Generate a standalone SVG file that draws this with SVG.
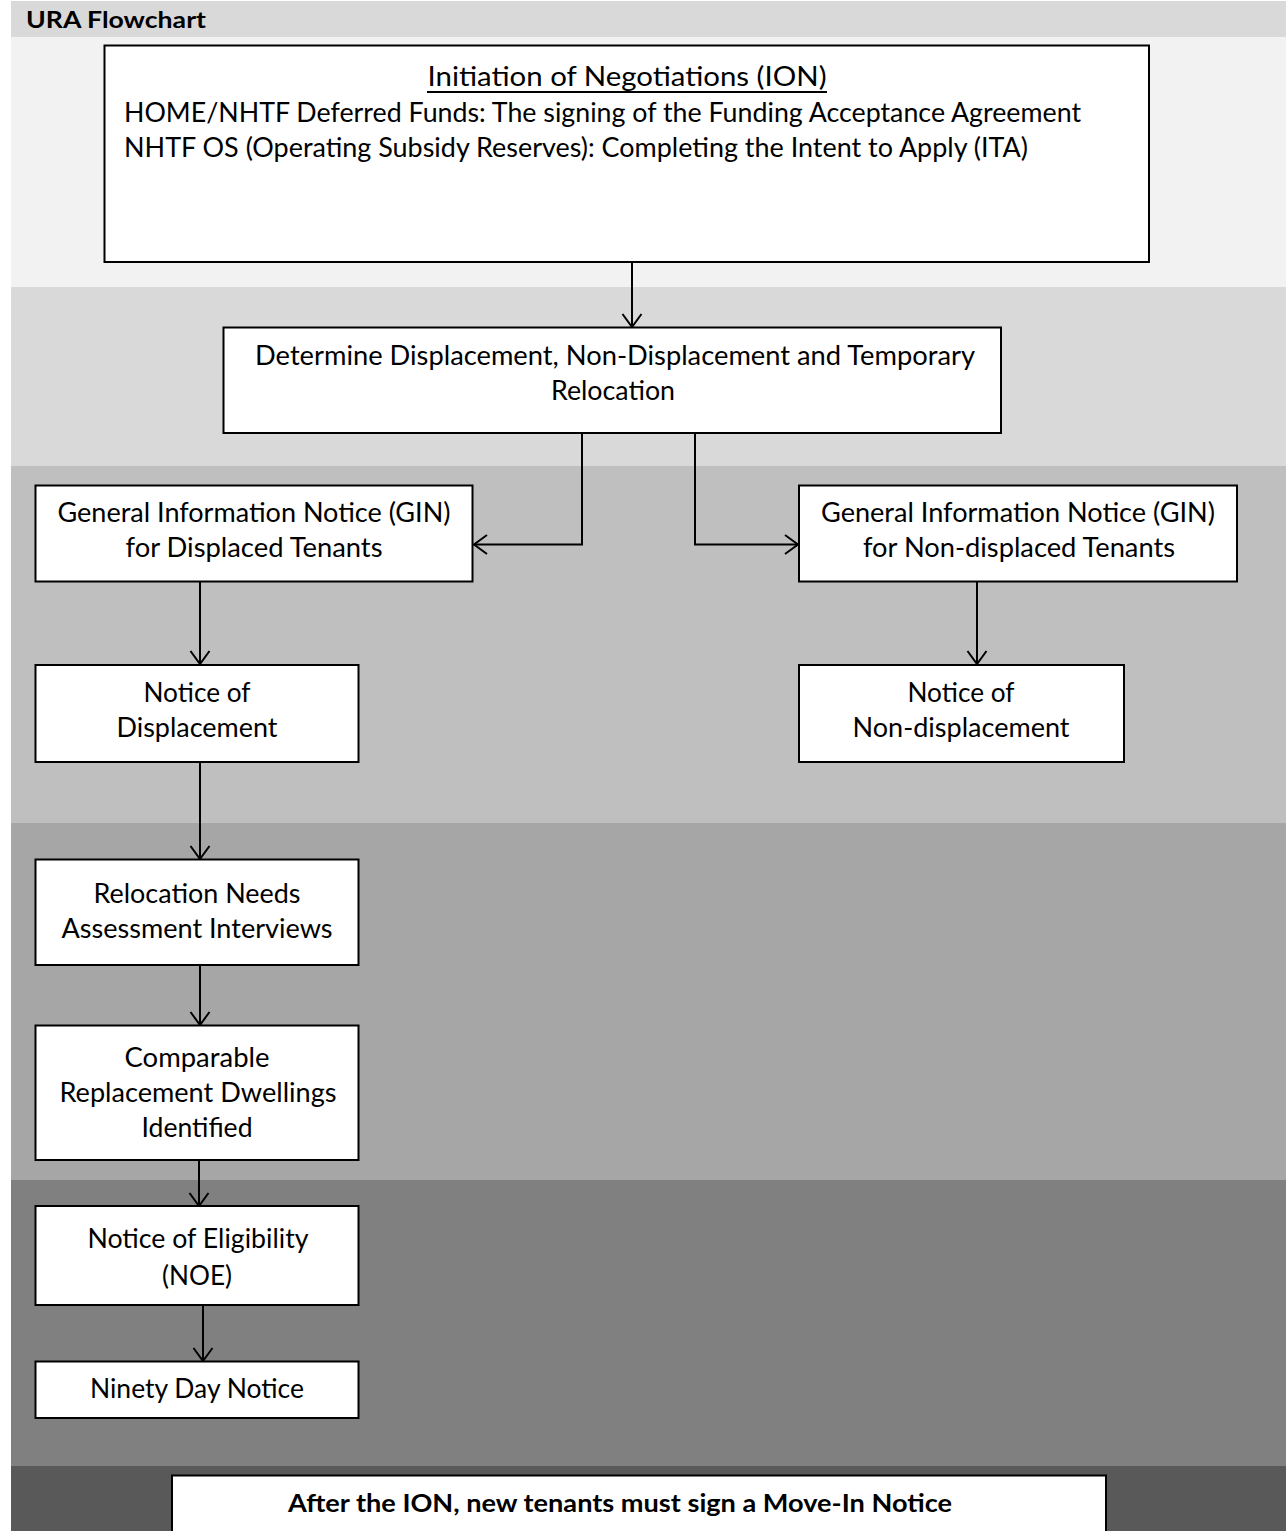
<svg xmlns="http://www.w3.org/2000/svg" width="1286" height="1531" viewBox="0 0 1286 1531">
<style>
.band{stroke:none}
.box{fill:#ffffff;stroke:#000000;stroke-width:2}
.t{font-family:Lato,"Open Sans","Liberation Sans",sans-serif;font-size:27px;fill:#000000;text-anchor:middle}
.tl{font-family:Lato,"Open Sans","Liberation Sans",sans-serif;font-size:27px;fill:#000000}
.b{font-family:Lato,"Open Sans","Liberation Sans",sans-serif;font-weight:bold;fill:#000000}
.c{fill:none;stroke:#000000;stroke-width:2}
</style>
<defs>
<marker id="ah" markerUnits="userSpaceOnUse" markerWidth="30" markerHeight="30" refX="0" refY="0" viewBox="-15 -15 30 30" orient="auto" overflow="visible">
<path d="M-13,-9.5 L0,0 L-13,9.5" fill="none" stroke="#000000" stroke-width="2"/>
</marker>
</defs>
<rect width="1286" height="1531" fill="#ffffff"/>
<g id="bands">
<rect class="band" x="11" y="1" width="1275" height="36" fill="#d9d9d9"/>
<rect class="band" x="11" y="37" width="1275" height="250" fill="#f2f2f2"/>
<rect class="band" x="11" y="287" width="1275" height="179" fill="#d9d9d9"/>
<rect class="band" x="11" y="466" width="1275" height="357" fill="#bfbfbf"/>
<rect class="band" x="11" y="823" width="1275" height="357" fill="#a6a6a6"/>
<rect class="band" x="11" y="1180" width="1275" height="286" fill="#808080"/>
<rect class="band" x="11" y="1466" width="1275" height="65" fill="#595959"/>
</g>
<text class="b" x="26" y="28" font-size="22" textLength="180" lengthAdjust="spacingAndGlyphs">URA Flowchart</text>
<g id="connectors">
<line class="c" x1="632" y1="262" x2="632" y2="327" marker-end="url(#ah)"/>
<polyline class="c" points="582,433 582,544.5 474,544.5" marker-end="url(#ah)"/>
<polyline class="c" points="695,433 695,544.5 798,544.5" marker-end="url(#ah)"/>
<line class="c" x1="200" y1="582" x2="200" y2="664" marker-end="url(#ah)"/>
<line class="c" x1="977" y1="582" x2="977" y2="664" marker-end="url(#ah)"/>
<line class="c" x1="200" y1="762" x2="200" y2="859" marker-end="url(#ah)"/>
<line class="c" x1="200" y1="965" x2="200" y2="1025" marker-end="url(#ah)"/>
<line class="c" x1="199" y1="1160" x2="199" y2="1206" marker-end="url(#ah)"/>
<line class="c" x1="203" y1="1305" x2="203" y2="1361" marker-end="url(#ah)"/>
</g>
<g id="node-ion">
<rect class="box" x="104.5" y="45.5" width="1044.5" height="216.5" stroke-width="2.5"/>
<text class="t" x="627" y="86" textLength="399" lengthAdjust="spacingAndGlyphs">Initiation of Negotiations (ION)</text>
<line x1="427" y1="92" x2="827" y2="92" stroke="#000000" stroke-width="2"/>
<text class="tl" x="124" y="122" textLength="957" lengthAdjust="spacingAndGlyphs">HOME/NHTF Deferred Funds: The signing of the Funding Acceptance Agreement</text>
<text class="tl" x="124" y="157" textLength="904" lengthAdjust="spacingAndGlyphs">NHTF OS (Operating Subsidy Reserves): Completing the Intent to Apply (ITA)</text>
</g>
<g id="node-determine">
<rect class="box" x="223.5" y="327.5" width="777.5" height="105.5"/>
<text class="t" x="615" y="365" textLength="720" lengthAdjust="spacingAndGlyphs">Determine Displacement, Non-Displacement and Temporary</text>
<text class="t" x="613" y="400" textLength="124" lengthAdjust="spacingAndGlyphs">Relocation</text>
</g>
<g id="node-gin-displaced">
<rect class="box" x="35.5" y="485.5" width="437" height="96"/>
<text class="t" x="254" y="522" textLength="393" lengthAdjust="spacingAndGlyphs">General Information Notice (GIN)</text>
<text class="t" x="254" y="557" textLength="257" lengthAdjust="spacingAndGlyphs">for Displaced Tenants</text>
</g>
<g id="node-gin-nondisplaced">
<rect class="box" x="799" y="485.5" width="438" height="96"/>
<text class="t" x="1018" y="522" textLength="394" lengthAdjust="spacingAndGlyphs">General Information Notice (GIN)</text>
<text class="t" x="1019" y="557" textLength="312" lengthAdjust="spacingAndGlyphs">for Non-displaced Tenants</text>
</g>
<g id="node-notice-displacement">
<rect class="box" x="35.5" y="665" width="323" height="97"/>
<text class="t" x="197" y="702" textLength="107" lengthAdjust="spacingAndGlyphs">Notice of</text>
<text class="t" x="197" y="737" textLength="161" lengthAdjust="spacingAndGlyphs">Displacement</text>
</g>
<g id="node-notice-nondisplacement">
<rect class="box" x="799" y="665" width="325" height="97"/>
<text class="t" x="961" y="702" textLength="107" lengthAdjust="spacingAndGlyphs">Notice of</text>
<text class="t" x="961" y="737" textLength="217" lengthAdjust="spacingAndGlyphs">Non-displacement</text>
</g>
<g id="node-relocation">
<rect class="box" x="35.5" y="859.5" width="323" height="105.5"/>
<text class="t" x="197" y="903" textLength="207" lengthAdjust="spacingAndGlyphs">Relocation Needs</text>
<text class="t" x="197" y="938" textLength="271" lengthAdjust="spacingAndGlyphs">Assessment Interviews</text>
</g>
<g id="node-comparable">
<rect class="box" x="35.5" y="1025.5" width="323" height="134.5"/>
<text class="t" x="197" y="1067" textLength="145" lengthAdjust="spacingAndGlyphs">Comparable</text>
<text class="t" x="198" y="1102" textLength="277" lengthAdjust="spacingAndGlyphs">Replacement Dwellings</text>
<text class="t" x="197" y="1137" textLength="111" lengthAdjust="spacingAndGlyphs">Identified</text>
</g>
<g id="node-noe">
<rect class="box" x="35.5" y="1206" width="323" height="99"/>
<text class="t" x="198" y="1248" textLength="221" lengthAdjust="spacingAndGlyphs">Notice of Eligibility</text>
<text class="t" x="197" y="1285" textLength="70" lengthAdjust="spacingAndGlyphs">(NOE)</text>
</g>
<g id="node-ninety">
<rect class="box" x="35.5" y="1361.5" width="323" height="56.5"/>
<text class="t" x="197" y="1398" textLength="214" lengthAdjust="spacingAndGlyphs">Ninety Day Notice</text>
</g>
<g id="node-movein">
<rect class="box" x="172" y="1475.5" width="934" height="60"/>
<text class="b" x="620" y="1512" font-size="25" text-anchor="middle" textLength="664" lengthAdjust="spacingAndGlyphs">After the ION, new tenants must sign a Move-In Notice</text>
</g>
</svg>
